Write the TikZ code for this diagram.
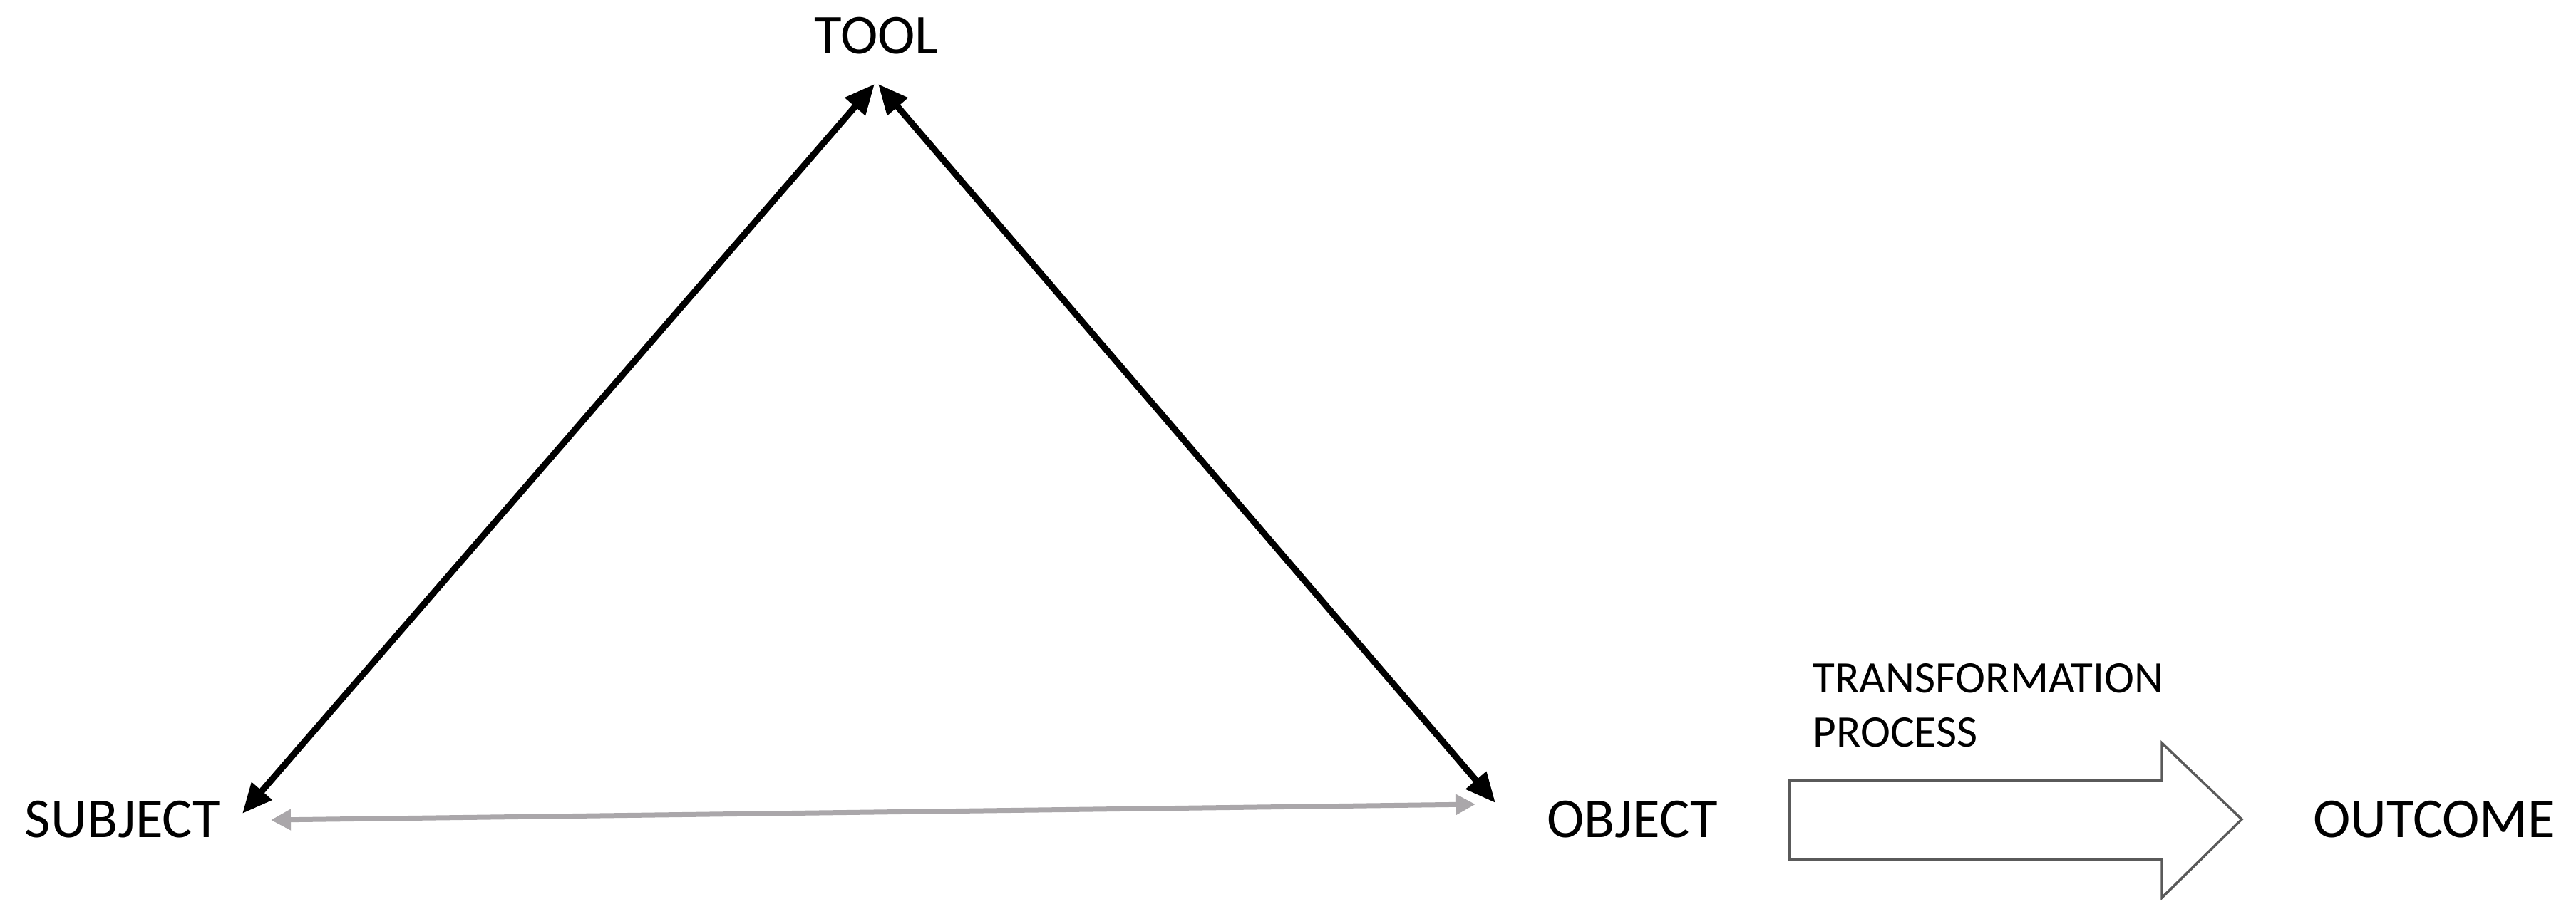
\documentclass[tikz,border=0pt]{standalone}
\usepackage{fontspec}
\setmainfont{Carlito}
\usetikzlibrary{arrows.meta}
\definecolor{lgray}{RGB}{170,167,170}
\definecolor{agray}{RGB}{90,90,90}
\begin{document}
\begin{tikzpicture}[
  lbl/.style={font=\fontsize{22.5}{27}\selectfont, inner sep=0pt, anchor=base},
  small/.style={font=\fontsize{18}{22}\selectfont, inner sep=0pt, anchor=base west},
  link/.style={line width=0.09cm, {Triangle[length=0.42cm,width=0.36cm]}-{Triangle[length=0.42cm,width=0.36cm]}},
  glink/.style={line width=0.07cm, draw=lgray, {Triangle[length=0.28cm,width=0.28cm]}-{Triangle[length=0.28cm,width=0.28cm]}},
  bigarrow/.style={draw=agray, line width=0.035cm, fill=white, line join=miter}
]
\useasboundingbox (0,0) rectangle (36.14,12.89);
\node[lbl] (tool) at (12.30,12.14) {TOOL};
\node[lbl] (subject) at (1.72,1.14) {SUBJECT};
\node[lbl] (object) at (22.90,1.14) {OBJECT};
\node[lbl] (outcome) at (34.15,1.14) {OUTCOME};
\node[small] (trans) at (25.43,3.17) {TRANSFORMATION};
\node[small] (proc) at (25.43,2.41) {PROCESS};

\coordinate (toolL) at (12.27,11.71);
\coordinate (toolR) at (12.32,11.71);
\coordinate (subjT) at (3.40,1.47);
\coordinate (objT) at (20.98,1.62);
\coordinate (subjR) at (3.80,1.38);
\coordinate (objL) at (20.70,1.60);

\draw[link] (toolL) -- (subjT);
\draw[link] (toolR) -- (objT);
\draw[glink] (subjR) -- (objL);

\draw[bigarrow] (25.10,1.94) -- (30.33,1.94) -- (30.33,2.46) -- (31.45,1.39) -- (30.33,0.29) -- (30.33,0.83) -- (25.10,0.83) -- cycle;
\end{tikzpicture}
\end{document}
